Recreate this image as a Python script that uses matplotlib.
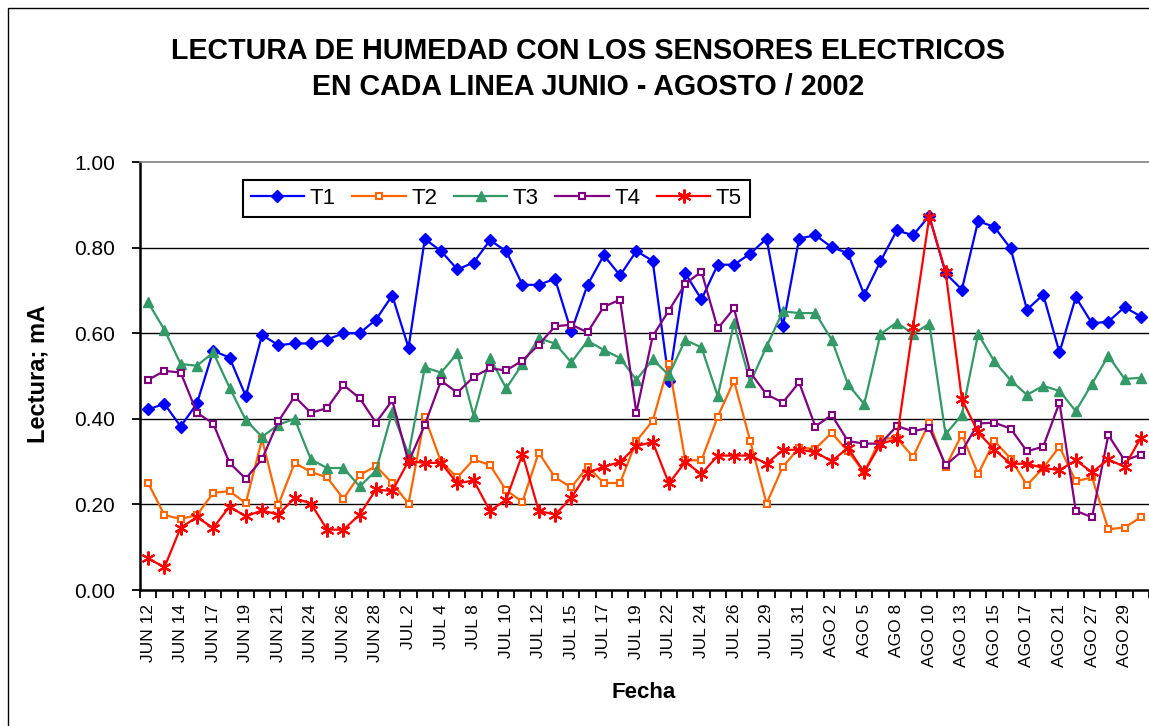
import numpy as np
import matplotlib
matplotlib.use("Agg")
import matplotlib.pyplot as plt
from matplotlib.patches import Rectangle

# tick labels shown under every other reading
labels = ["JUN 12", "JUN 14", "JUN 17", "JUN 19", "JUN 21", "JUN 24", "JUN 26", "JUN 28",
          "JUL 2", "JUL 4", "JUL 8", "JUL 10", "JUL 12", "JUL 15", "JUL 17", "JUL 19",
          "JUL 22", "JUL 24", "JUL 26", "JUL 29", "JUL 31", "AGO 2", "AGO 5", "AGO 8",
          "AGO 10", "AGO 13", "AGO 15", "AGO 17", "AGO 21", "AGO 27", "AGO 29"]

t1 = [0.422, 0.435, 0.382, 0.436, 0.559, 0.543, 0.453, 0.596, 0.572, 0.576,
      0.576, 0.585, 0.600, 0.600, 0.632, 0.688, 0.566, 0.820, 0.792, 0.749,
      0.765, 0.817, 0.792, 0.713, 0.713, 0.727, 0.604, 0.713, 0.782, 0.735,
      0.792, 0.769, 0.489, 0.740, 0.679, 0.760, 0.760, 0.786, 0.821, 0.616,
      0.821, 0.829, 0.801, 0.787, 0.690, 0.768, 0.840, 0.829, 0.874, 0.740,
      0.702, 0.862, 0.848, 0.798, 0.655, 0.690, 0.555, 0.684, 0.623, 0.627,
      0.661, 0.639]
t2 = [0.250, 0.175, 0.166, 0.175, 0.227, 0.231, 0.203, 0.352, 0.199, 0.297,
      0.276, 0.263, 0.213, 0.269, 0.289, 0.250, 0.202, 0.404, 0.299, 0.263,
      0.305, 0.292, 0.233, 0.206, 0.321, 0.263, 0.240, 0.288, 0.250, 0.250,
      0.348, 0.395, 0.528, 0.303, 0.303, 0.405, 0.489, 0.348, 0.202, 0.288,
      0.332, 0.330, 0.367, 0.324, 0.275, 0.353, 0.355, 0.311, 0.391, 0.288,
      0.363, 0.271, 0.348, 0.307, 0.245, 0.285, 0.335, 0.254, 0.263, 0.142,
      0.146, 0.170]
t3 = [0.672, 0.608, 0.528, 0.524, 0.555, 0.473, 0.397, 0.358, 0.386, 0.400,
      0.305, 0.285, 0.285, 0.242, 0.279, 0.416, 0.317, 0.520, 0.508, 0.553,
      0.407, 0.543, 0.471, 0.528, 0.588, 0.576, 0.532, 0.582, 0.561, 0.542,
      0.491, 0.539, 0.502, 0.584, 0.567, 0.453, 0.623, 0.485, 0.569, 0.651,
      0.647, 0.647, 0.585, 0.481, 0.434, 0.598, 0.625, 0.598, 0.622, 0.364,
      0.409, 0.598, 0.534, 0.490, 0.456, 0.477, 0.465, 0.418, 0.482, 0.547,
      0.493, 0.496]
t4 = [0.491, 0.512, 0.508, 0.414, 0.389, 0.297, 0.260, 0.306, 0.394, 0.452,
      0.414, 0.425, 0.479, 0.448, 0.391, 0.443, 0.299, 0.386, 0.489, 0.461,
      0.498, 0.518, 0.513, 0.536, 0.573, 0.616, 0.620, 0.602, 0.662, 0.678,
      0.414, 0.593, 0.653, 0.715, 0.744, 0.611, 0.658, 0.508, 0.457, 0.438,
      0.485, 0.382, 0.409, 0.348, 0.342, 0.342, 0.383, 0.371, 0.379, 0.292,
      0.324, 0.389, 0.391, 0.377, 0.324, 0.335, 0.438, 0.185, 0.170, 0.362,
      0.303, 0.316]
t5 = [0.074, 0.053, 0.146, 0.170, 0.145, 0.195, 0.172, 0.186, 0.176, 0.215,
      0.202, 0.141, 0.141, 0.176, 0.235, 0.231, 0.301, 0.297, 0.297, 0.249,
      0.256, 0.185, 0.211, 0.318, 0.185, 0.176, 0.215, 0.274, 0.288, 0.299,
      0.336, 0.346, 0.249, 0.299, 0.271, 0.314, 0.314, 0.314, 0.295, 0.327,
      0.328, 0.322, 0.301, 0.332, 0.275, 0.342, 0.352, 0.615, 0.872, 0.744,
      0.446, 0.368, 0.328, 0.295, 0.295, 0.285, 0.280, 0.303, 0.275, 0.305,
      0.288, 0.356]

plt.rcParams['font.family'] = ['Liberation Sans', 'DejaVu Sans']

W, H = 1149, 726
fig = plt.figure(figsize=(W / 100, H / 100), dpi=100)
ax = fig.add_axes([140 / W, 136 / H, 1009 / W, 428 / H])

x = np.arange(len(t1))
lw = 1.6
ax.plot(x, t1, color='#0000FF', lw=lw, marker='D', ms=6, mfc='#0000FF', mec='#0000FF', label='T1')
ax.plot(x, t2, color='#FF6600', lw=lw, marker='s', ms=4.5, mfc='white', mec='#FF6600', mew=1.5, label='T2')
ax.plot(x, t3, color='#339966', lw=lw, marker='^', ms=7, mfc='#339966', mec='#339966', label='T3')
ax.plot(x, t4, color='#800080', lw=lw, marker='s', ms=4.5, mfc='white', mec='#800080', mew=1.5, label='T4')
ax.plot(x, t5, color='#FF0000', lw=lw, marker=(6, 2, 0), ms=10, mec='#FF0000', mew=1.5, label='T5')

# axes and grid
ax.set_xlim(-0.5, len(x) - 0.5)
ax.set_ylim(0, 1)
yt = np.arange(0, 1.01, 0.2)
ax.set_yticks(yt)
ax.set_yticklabels([f"{v:.2f}" for v in yt], fontsize=15)
for v in yt[1:-1]:
    ax.axhline(v, color='black', lw=1, zorder=0.5)

ax.set_xticks(np.arange(len(x) + 1) - 0.5)
ax.set_xticklabels([])
ax.set_xticks(x[::2], minor=True)
ax.set_xticklabels(labels, minor=True, rotation=90, fontsize=12.5, va='top')
ax.tick_params(axis='x', which='major', direction='out', length=6, width=1.3)
ax.tick_params(axis='x', which='minor', length=0, pad=10)
ax.tick_params(axis='y', direction='out', length=6, width=1.3, pad=12)

ax.spines['right'].set_visible(False)
ax.spines['top'].set_color('#808080')
ax.spines['top'].set_linewidth(1.2)
ax.spines['left'].set_linewidth(1.8)
ax.spines['bottom'].set_linewidth(1.8)

leg = ax.legend(loc='upper left', bbox_to_anchor=(0.102, 0.957), ncol=5, fontsize=16,
                frameon=True, fancybox=False, edgecolor='black', framealpha=1,
                handlelength=2.4, handletextpad=0.25, columnspacing=0.75,
                borderpad=0.35, borderaxespad=0)
leg.get_frame().set_linewidth(1.5)

fig.text(588 / W, 1 - 69 / H, "LECTURA DE HUMEDAD CON LOS SENSORES ELECTRICOS\nEN CADA LINEA JUNIO - AGOSTO / 2002",
         ha='center', va='center', fontsize=20.6, fontweight='bold', linespacing=1.4)
fig.text(644 / W, 1 - 693 / H, "Fecha", ha='center', va='center', fontsize=16, fontweight='bold')
fig.text(38 / W, 1 - 374 / H, "Lectura; mA", ha='center', va='center', rotation=90,
         fontsize=17, fontweight='bold')

# chart area border
fig.patches.append(Rectangle((8 / W, -0.05), 1.0, 1.05 - 8 / H, transform=fig.transFigure,
                             fill=False, lw=1, ec='black'))

fig.savefig('out.png', dpi=100)
